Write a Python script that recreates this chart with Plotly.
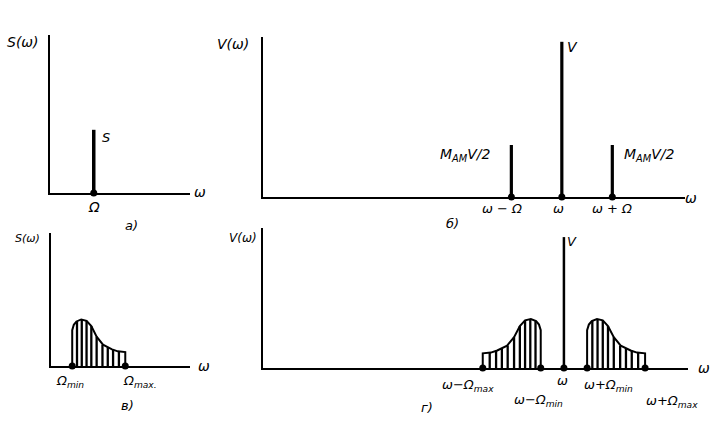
import plotly.graph_objects as go

# ---------------- data ----------------
# panel a: single modulating tone
OMEGA_A = 1.0          # Ω
S_A = 0.40             # S amplitude

# panel б: AM spectrum for a tone
CARRIER = 10.0         # ω
OMEGA_B = 1.0          # Ω
V_B = 0.97             # carrier amplitude V
SIDE_B = 0.325         # M_AM V / 2

# panel в: band of modulating frequencies
OMEGA_MIN = 0.4
OMEGA_MAX = 1.4
ENV_U = [0, 0, 0.03, 0.08, 0.17, 0.27, 0.36, 0.46, 0.58, 0.75, 0.86, 1.0, 1.0]
ENV_H = [0, 0.27, 0.31, 0.335, 0.35, 0.34, 0.30, 0.22, 0.16, 0.125, 0.11, 0.105, 0]
HATCH_U = [0.09, 0.18, 0.27, 0.36, 0.46, 0.57, 0.67, 0.77, 0.88]
HATCH_H = [0.335, 0.35, 0.34, 0.30, 0.22, 0.16, 0.14, 0.123, 0.108]

# panel г: AM spectrum for a band
V_G = 0.935

# ---------------- helpers ----------------
W, H = 721, 430
def dx(a, b):
    return [a / W, b / W]
def dy(top, bottom):
    return [1 - bottom / H, 1 - top / H]
def px(x):
    return x / W
def py(y):
    return 1 - y / H

band = [OMEGA_MIN + u * (OMEGA_MAX - OMEGA_MIN) for u in ENV_U]
hband = [OMEGA_MIN + u * (OMEGA_MAX - OMEGA_MIN) for u in HATCH_U]

def stems(xs, hs):
    X, Y = [], []
    for x, h in zip(xs, hs):
        X += [x, x, None]
        Y += [0, h, None]
    return X, Y

BLACK = "#000"
fig = go.Figure()

def add_stems(xs, hs, xa, ya, width):
    X, Y = stems(xs, hs)
    fig.add_trace(go.Scatter(x=X, y=Y, mode="lines", xaxis=xa, yaxis=ya,
                             line=dict(color=BLACK, width=width), hoverinfo="skip"))

def add_dots(xs, xa, ya):
    fig.add_trace(go.Scatter(x=xs, y=[0] * len(xs), mode="markers", xaxis=xa, yaxis=ya,
                             marker=dict(color=BLACK, size=7), cliponaxis=False, hoverinfo="skip"))

def add_line(xs, ys, xa, ya, width=2):
    fig.add_trace(go.Scatter(x=xs, y=ys, mode="lines", xaxis=xa, yaxis=ya,
                             line=dict(color=BLACK, width=width), cliponaxis=False, hoverinfo="skip"))

# panel a
add_stems([OMEGA_A], [S_A], "x", "y", 3.5)
add_dots([OMEGA_A], "x", "y")

# panel б
add_stems([CARRIER - OMEGA_B, CARRIER, CARRIER + OMEGA_B], [SIDE_B, V_B, SIDE_B], "x2", "y2", 3.2)
add_dots([CARRIER - OMEGA_B, CARRIER, CARRIER + OMEGA_B], "x2", "y2")

# panel в
add_line(band, ENV_H, "x3", "y3", 2)
add_stems(hband, HATCH_H, "x3", "y3", 2.3)
add_dots([OMEGA_MIN, OMEGA_MAX], "x3", "y3")

# panel г
usb = [CARRIER + b for b in band]
lsb = [CARRIER - b for b in band]
add_line(usb, ENV_H, "x4", "y4", 2)
add_line(lsb, ENV_H, "x4", "y4", 2)
add_stems([CARRIER + b for b in hband], HATCH_H, "x4", "y4", 2.3)
add_stems([CARRIER - b for b in hband], HATCH_H, "x4", "y4", 2.3)
add_stems([CARRIER], [V_G], "x4", "y4", 2.5)
add_dots([CARRIER - OMEGA_MAX, CARRIER - OMEGA_MIN, CARRIER, CARRIER + OMEGA_MIN, CARRIER + OMEGA_MAX], "x4", "y4")

ax = dict(showline=True, linecolor=BLACK, linewidth=2, showgrid=False, zeroline=False,
          showticklabels=False, ticks="", fixedrange=True)

fig.update_layout(
    width=W, height=H, margin=dict(l=0, r=0, t=0, b=0),
    paper_bgcolor="white", plot_bgcolor="white", showlegend=False,
    font=dict(family="DejaVu Sans", color=BLACK, size=13),
    xaxis=dict(ax, domain=dx(50, 190), range=[0, 3.2], anchor="y"),
    yaxis=dict(ax, domain=dy(35, 193), range=[0, 1], anchor="x"),
    xaxis2=dict(ax, domain=dx(263, 685), range=[4.08, 12.44], anchor="y2"),
    yaxis2=dict(ax, domain=dy(37, 197), range=[0, 1], anchor="x2"),
    xaxis3=dict(ax, domain=dx(51, 190), range=[0, 2.62], anchor="y3"),
    yaxis3=dict(ax, domain=dy(233, 366), range=[0, 1], anchor="x3"),
    xaxis4=dict(ax, domain=dx(263, 688), range=[4.81, 12.14], anchor="y4"),
    yaxis4=dict(ax, domain=dy(228, 368), range=[0, 1], anchor="x4"),
)

anns = []
def font(size):
    return dict(size=size, style="italic", family="DejaVu Sans", color=BLACK)
def ann_px(text, x, y, size=13):
    anns.append(dict(text=text, x=px(x), y=py(y), xref="paper", yref="paper",
                     showarrow=False, font=font(size), xanchor="center", yanchor="middle"))
def ann_data(text, x, xref, y, yref, xshift=0, yshift=0, size=13):
    anns.append(dict(text=text, x=x, y=y, xref=xref, yref=yref, xshift=xshift, yshift=yshift,
                     showarrow=False, font=font(size), xanchor="center", yanchor="middle"))

# panel a
ann_px("S(ω)", 23, 42, 14)
ann_data("S", OMEGA_A, "x", S_A, "y", xshift=12, yshift=-8)
ann_data("Ω", OMEGA_A, "x", py(207), "paper", size=14)
ann_px("ω", 200, 192, 14)
ann_px("а)", 131, 225)

# panel б
ann_px("V(ω)", 233, 44, 14)
ann_data("V", CARRIER, "x2", V_B, "y2", xshift=11, yshift=-5, size=14)
ann_data("M<sub>AM</sub>V/2", CARRIER - OMEGA_B, "x2", SIDE_B, "y2", xshift=-46, yshift=-10, size=14)
ann_data("M<sub>AM</sub>V/2", CARRIER + OMEGA_B, "x2", SIDE_B, "y2", xshift=37, yshift=-10, size=14)
ann_data("ω − Ω", CARRIER - OMEGA_B, "x2", py(209), "paper", xshift=-9)
ann_data("ω", CARRIER, "x2", py(209), "paper", xshift=-3)
ann_data("ω + Ω", CARRIER + OMEGA_B, "x2", py(209), "paper")
ann_px("ω", 691, 198, 14)
ann_px("б)", 452, 223)

# panel в
ann_px("S(ω)", 28, 238, 11)
ann_px("ω", 204, 366, 14)
ann_data("Ω<sub>min</sub>", OMEGA_MIN, "x3", py(381), "paper", xshift=-2)
ann_data("Ω<sub>max.</sub>", OMEGA_MAX, "x3", py(381), "paper", xshift=15)
ann_px("в)", 127, 405)

# panel г
ann_px("V(ω)", 243, 238, 12)
ann_data("V", CARRIER, "x4", V_G, "y4", xshift=8, yshift=-4)
ann_data("ω−Ω<sub>max</sub>", CARRIER - OMEGA_MAX, "x4", py(385), "paper", xshift=-15)
ann_data("ω−Ω<sub>min</sub>", CARRIER - OMEGA_MIN, "x4", py(400), "paper", xshift=-2)
ann_data("ω", CARRIER, "x4", py(380), "paper", xshift=-1)
ann_data("ω+Ω<sub>min</sub>", CARRIER + OMEGA_MIN, "x4", py(385), "paper", xshift=21)
ann_data("ω+Ω<sub>max</sub>", CARRIER + OMEGA_MAX, "x4", py(401), "paper", xshift=27)
ann_px("ω", 704, 368, 14)
ann_px("г)", 427, 407)

fig.update_layout(annotations=anns)
fig.write_html("out.html",
               config={"displayModeBar": False, "staticPlot": True},
               post_script="document.body.style.margin='0px';document.body.style.overflow='hidden';")
